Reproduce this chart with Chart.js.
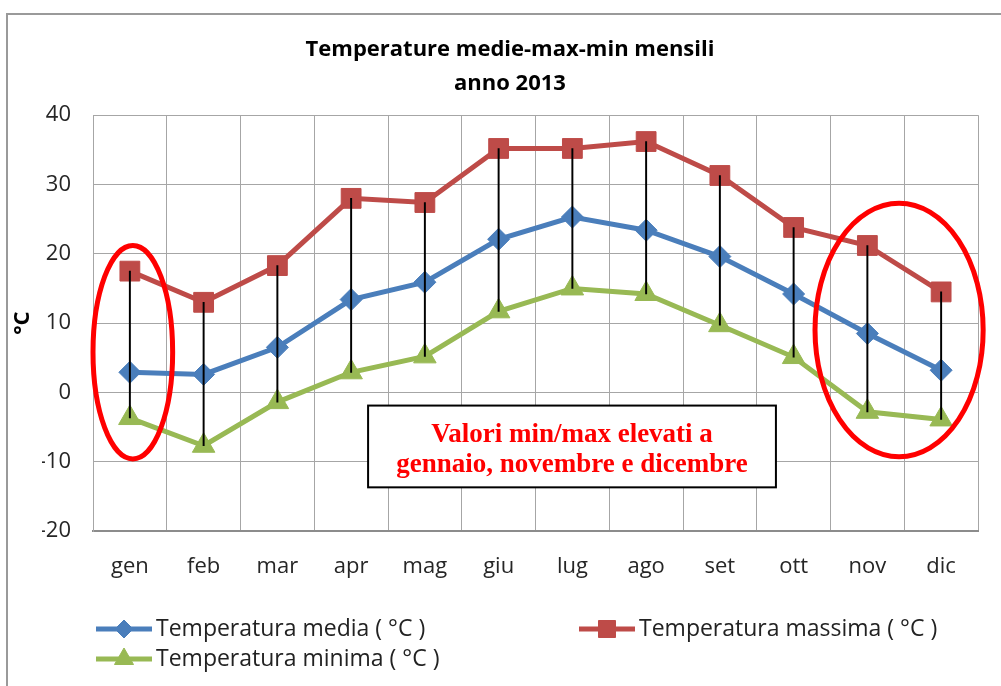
<!DOCTYPE html>
<html lang="it">
<head>
<meta charset="utf-8">
<title>Temperature medie-max-min mensili 2013</title>
<script src="https://cdn.jsdelivr.net/npm/chart.js@4.4.1/dist/chart.umd.min.js"></script>
<style>
  html, body { margin: 0; padding: 0; background: #fff; }
  #wrap { width: 1001px; height: 686px; position: relative; }
</style>
</head>
<body>
<div id="wrap"><canvas id="grafico" width="1001" height="686"></canvas></div>
<script>
// Dati (anno 2013)
const mesi = ['gen', 'feb', 'mar', 'apr', 'mag', 'giu', 'lug', 'ago', 'set', 'ott', 'nov', 'dic'];
const tempMedia = [2.9, 2.6, 6.5, 13.4, 15.9, 22.1, 25.3, 23.4, 19.6, 14.2, 8.5, 3.2];
const tempMassima = [17.5, 13.0, 18.3, 28.0, 27.4, 35.2, 35.2, 36.2, 31.3, 23.8, 21.2, 14.5];
const tempMinima = [-3.7, -7.7, -1.4, 2.9, 5.2, 11.7, 15.0, 14.2, 9.7, 5.1, -2.8, -3.9];
const tickY = [-20, -10, 0, 10, 20, 30, 40];
const titolo = ['Temperature medie-max-min mensili', 'anno 2013'];
const etichette = ['Temperatura media ( °C )', 'Temperatura massima ( °C )', 'Temperatura minima ( °C )'];
const nota = ['Valori min/max elevati a', 'gennaio, novembre e dicembre'];

const FONT = '"Open Sans", "Noto Sans", sans-serif';
const BLU = '#4A7EBB', ROSSO = '#BE4B48', VERDE = '#98B954';

// Serie con stile marker tipo Excel
const serie = [
    { label: etichette[0], data: tempMedia, colore: BLU, punto: 'rectRot', r: 11 },
    { label: etichette[1], data: tempMassima, colore: ROSSO, punto: 'rect', r: 14 },
    { label: etichette[2], data: tempMinima, colore: VERDE, punto: 'triangle', r: 13 }
];

// Cornice, ellissi rosse, riquadro di testo, titolo asse Y e legenda
const decorazioni = {
    id: 'decorazioni',
    beforeDraw(chart) {
        const ctx = chart.ctx;
        ctx.save();
        ctx.strokeStyle = '#9a9a9a';
        ctx.lineWidth = 2;
        ctx.strokeRect(7, 14, 1010, 700);
        ctx.restore();
    },
    afterDatasetsDraw(chart) {
        const ctx = chart.ctx;
        const x = chart.scales.x, y = chart.scales.y;
        ctx.save();

        // ellissi di evidenziazione
        const ellissi = [
            { cx: 0.04, cy: 5.8, rx: 0.54, ry: 15.4 },
            { cx: 10.43, cy: 9.0, rx: 1.14, ry: 18.3 }
        ];
        ctx.strokeStyle = '#FF0000';
        ctx.lineWidth = 5;
        ellissi.forEach(e => {
            const px = x.getPixelForValue(e.cx);
            const py = y.getPixelForValue(e.cy);
            const rx = x.getPixelForValue(e.cx + e.rx) - px;
            const ry = y.getPixelForValue(e.cy - e.ry) - py;
            ctx.beginPath();
            ctx.ellipse(px, py, rx, ry, 0, 0, Math.PI * 2);
            ctx.stroke();
        });

        // riquadro con la nota
        const bx1 = x.getPixelForValue(3.23), bx2 = x.getPixelForValue(8.76);
        const by1 = y.getPixelForValue(-1.9), by2 = y.getPixelForValue(-13.7);
        ctx.fillStyle = '#fff';
        ctx.fillRect(bx1, by1, bx2 - bx1, by2 - by1);
        ctx.strokeStyle = '#000';
        ctx.lineWidth = 2;
        ctx.strokeRect(bx1, by1, bx2 - bx1, by2 - by1);
        ctx.fillStyle = '#FF0000';
        ctx.font = 'bold 27px "Liberation Serif", "DejaVu Serif", serif';
        ctx.textAlign = 'center';
        ctx.textBaseline = 'middle';
        const cx = (bx1 + bx2) / 2;
        ctx.fillText(nota[0], cx, by1 + 29);
        ctx.fillText(nota[1], cx, by1 + 59);

        // titolo asse Y
        ctx.save();
        ctx.translate(23, (chart.chartArea.top + chart.chartArea.bottom) / 2);
        ctx.rotate(-Math.PI / 2);
        ctx.fillStyle = '#000';
        ctx.font = 'bold 22px ' + FONT;
        ctx.fillText('°C', 0, 0);
        ctx.restore();

        // legenda su due colonne
        const pos = [[96, 629], [579, 629], [96, 659]];
        serie.forEach((s, i) => {
            const [lx, ly] = pos[i];
            ctx.strokeStyle = s.colore;
            ctx.lineWidth = 5;
            ctx.beginPath();
            ctx.moveTo(lx, ly);
            ctx.lineTo(lx + 56, ly);
            ctx.stroke();
            ctx.fillStyle = s.colore;
            ctx.lineWidth = 1;
            Chart.helpers.drawPoint(ctx, { pointStyle: s.punto, radius: s.r - 2, rotation: 0, borderWidth: 1 }, lx + 28, ly);
            ctx.fillStyle = '#222';
            ctx.font = '23px ' + FONT;
            ctx.textAlign = 'left';
            ctx.textBaseline = 'middle';
            ctx.fillText(s.label, lx + 60, ly);
        });
        ctx.restore();
    }
};

const datasets = serie.map((s, i) => ({
    type: 'line',
    label: s.label,
    data: s.data,
    borderColor: s.colore,
    backgroundColor: s.colore,
    borderWidth: 5,
    tension: 0,
    pointStyle: s.punto,
    pointRadius: s.r,
    pointBackgroundColor: s.colore,
    pointBorderColor: s.colore,
    pointBorderWidth: 1,
    order: i + 1
}));

// linee max-min (floating bar sottilissime)
datasets.push({
    type: 'bar',
    label: 'max-min',
    data: tempMassima.map((v, i) => [tempMinima[i], v]),
    backgroundColor: '#000',
    barThickness: 1.3,
    order: 0
});

new Chart(document.getElementById('grafico'), {
    type: 'line',
    data: { labels: mesi, datasets: datasets },
    plugins: [decorazioni],
    options: {
        responsive: false,
        animation: false,
        layout: { padding: { left: 42, right: 23, top: 0, bottom: 0 } },
        plugins: {
            legend: { display: false },
            tooltip: { enabled: false },
            title: {
                display: true,
                text: titolo,
                color: '#000',
                font: { family: FONT, size: 22, weight: 'bold', lineHeight: 1.55 },
                padding: { top: 33, bottom: 14 }
            }
        },
        scales: {
            x: {
                offset: true,
                grid: { offset: true, color: '#a6a6a6', lineWidth: 1, drawTicks: false },
                border: { color: '#8c8c8c', width: 2 },
                ticks: { color: '#262626', font: { family: FONT, size: 22 }, padding: 23 },
                afterFit(scale) { scale.height = 155; }
            },
            y: {
                min: tickY[0],
                max: tickY[tickY.length - 1],
                afterBuildTicks(scale) { scale.ticks = tickY.map(v => ({ value: v })); },
                grid: { color: '#a6a6a6', lineWidth: 1, drawTicks: false },
                border: { color: '#a6a6a6', width: 1 },
                ticks: { color: '#262626', font: { family: FONT, size: 22 }, padding: 22 },
                afterFit(scale) { scale.width = 51; }
            }
        }
    }
});
</script>
</body>
</html>
